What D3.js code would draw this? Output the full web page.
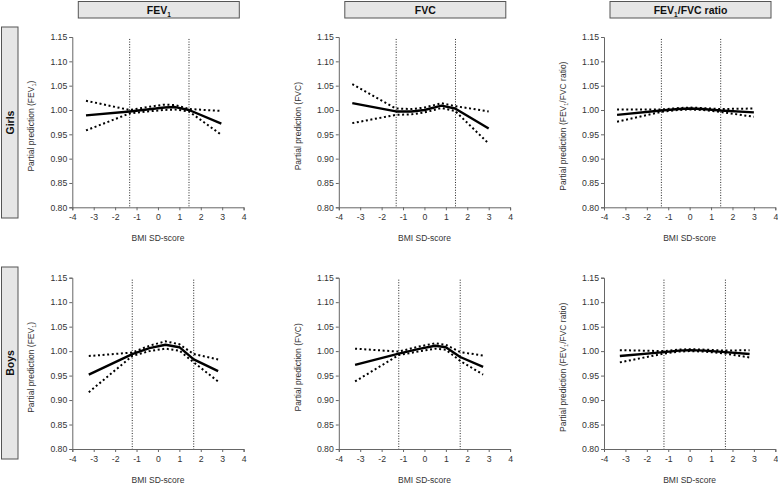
<!DOCTYPE html>
<html><head><meta charset="utf-8">
<script src="https://cdn.jsdelivr.net/npm/d3@7"></script>
<style>body{margin:0;background:#fff}svg{display:block;font-family:"Liberation Sans",Arial,sans-serif}</style>
</head><body><svg id="c" width="778" height="484"></svg>
<script>
// ---- data ----
const columnTitles = ["FEV", "FVC", "FEV/FVC ratio"];
const rowTitles = ["Girls", "Boys"];
const yLabels = ["(FEV₁)", "(FVC)", "(FEV₁/FVC ratio)"];
const xTicks = [-4, -3, -2, -1, 0, 1, 2, 3, 4];
const yTicks = [0.80, 0.85, 0.90, 0.95, 1.00, 1.05, 1.10, 1.15];
const cutGirls = [-1.32, 1.45];
const cutBoys = [-1.2, 1.67];

const girlsFev1X = [-3.36, -1.32, -0.5, 0.3, 0.8, 1.45, 2.96];
const girlsFev1 = [0.989, 0.997, 1.001, 1.005, 1.006, 1.000, 0.972];
const girlsFev1Up = [1.019, 1.000, 1.006, 1.011, 1.010, 1.002, 0.998];
const girlsFev1Lo = [0.958, 0.993, 0.997, 1.000, 1.001, 0.997, 0.949];

const girlsFvcX = [-3.37, -1.33, -0.6, 0, 0.8, 1.43, 3.0];
const girlsFvc = [1.014, 0.997, 0.997, 1.000, 1.009, 1.003, 0.962];
const girlsFvcUp = [1.053, 1.003, 1.002, 1.005, 1.014, 1.008, 0.997];
const girlsFvcLo = [0.973, 0.990, 0.991, 0.995, 1.004, 0.998, 0.931];

const girlsRatioX = [-3.39, -1.33, -0.5, 0, 0.6, 1.43, 3.0];
const girlsRatio = [0.990, 0.999, 1.002, 1.003, 1.002, 0.999, 0.995];
const girlsRatioUp = [1.001, 1.001, 1.004, 1.005, 1.004, 1.002, 1.003];
const girlsRatioLo = [0.976, 0.996, 1.000, 1.001, 1.000, 0.996, 0.986];

const boysFev1X = [-3.23, -1.2, -0.4, 0.35, 1.0, 1.67, 2.81];
const boysFev1 = [0.952, 0.994, 1.006, 1.013, 1.008, 0.983, 0.959];
const boysFev1Up = [0.990, 0.997, 1.011, 1.020, 1.014, 0.994, 0.983];
const boysFev1Lo = [0.916, 0.990, 1.000, 1.005, 1.001, 0.977, 0.938];

const boysFvcX = [-3.24, -1.2, -0.3, 0.5, 1.0, 1.67, 2.74];
const boysFvc = [0.972, 0.995, 1.004, 1.011, 1.008, 0.988, 0.968];
const boysFvcUp = [1.005, 0.999, 1.009, 1.016, 1.013, 0.998, 0.991];
const boysFvcLo = [0.938, 0.992, 0.999, 1.005, 1.003, 0.980, 0.952];

const boysRatioX = [-3.26, -1.2, -0.5, 0, 0.7, 1.67, 2.8];
const boysRatio = [0.990, 0.998, 1.001, 1.002, 1.001, 0.998, 0.994];
const boysRatioUp = [1.002, 1.000, 1.003, 1.004, 1.003, 1.001, 1.002];
const boysRatioLo = [0.977, 0.995, 0.999, 1.000, 0.999, 0.995, 0.987];

const panels = [
  [ {x: girlsFev1X, m: girlsFev1, u: girlsFev1Up, l: girlsFev1Lo, cut: cutGirls},
    {x: girlsFvcX, m: girlsFvc, u: girlsFvcUp, l: girlsFvcLo, cut: cutGirls},
    {x: girlsRatioX, m: girlsRatio, u: girlsRatioUp, l: girlsRatioLo, cut: cutGirls} ],
  [ {x: boysFev1X, m: boysFev1, u: boysFev1Up, l: boysFev1Lo, cut: cutBoys},
    {x: boysFvcX, m: boysFvc, u: boysFvcUp, l: boysFvcLo, cut: cutBoys},
    {x: boysRatioX, m: boysRatio, u: boysRatioUp, l: boysRatioLo, cut: cutBoys} ]
];

// ---- layout ----
const svg = d3.select("#c");
const colX = [72.3, 338.8, 604];
const plotW = 171.3;
const rowY = [[37, 207.3], [277.7, 449]];
const sideBoxes = [[27, 218], [267, 459]];

// column headers
columnTitles.forEach((t, ci) => {
  const x0 = colX[ci] + 6, w = 161;
  svg.append("rect").attr("x", x0).attr("y", 1.5).attr("width", w).attr("height", 16.5)
    .attr("fill", "#e6e6e6").attr("stroke", "#555").attr("stroke-width", 1);
  const tx = svg.append("text").attr("x", x0 + w / 2).attr("y", 14)
    .attr("text-anchor", "middle").attr("font-size", 10.5).attr("font-weight", "bold").attr("fill", "#111");
  if (ci === 0) {
    tx.append("tspan").text("FEV");
    tx.append("tspan").attr("font-size", 6.5).attr("dy", 2.5).text("1");
  } else if (ci === 2) {
    tx.append("tspan").text("FEV");
    tx.append("tspan").attr("font-size", 6.5).attr("dy", 2.5).text("1");
    tx.append("tspan").attr("dy", -2.5).text("/FVC ratio");
  } else tx.text(t);
});

// row side boxes
rowTitles.forEach((t, ri) => {
  const [y0, y1] = sideBoxes[ri];
  svg.append("rect").attr("x", 1.5).attr("y", y0).attr("width", 16.5).attr("height", y1 - y0)
    .attr("fill", "#e6e6e6").attr("stroke", "#555").attr("stroke-width", 1);
  svg.append("text").attr("transform", `translate(13.5,${(y0 + y1) / 2}) rotate(-90)`)
    .attr("text-anchor", "middle").attr("font-size", 10.5).attr("font-weight", "bold").attr("fill", "#111").text(t);
});

const fmt = d3.format(".2f");

panels.forEach((row, ri) => {
  row.forEach((p, ci) => {
    const x = d3.scaleLinear().domain([-4, 4]).range([colX[ci], colX[ci] + plotW]);
    const y = d3.scaleLinear().domain([0.80, 1.15]).range([rowY[ri][1], rowY[ri][0]]);
    const g = svg.append("g");

    // axes
    const ax = g.append("g").attr("transform", `translate(0,${y(0.80)})`)
      .call(d3.axisBottom(x).tickValues(xTicks).tickSize(3).tickPadding(4).tickFormat(d => String(d)));
    const ay = g.append("g").attr("transform", `translate(${x(-4)},0)`)
      .call(d3.axisLeft(y).tickValues(yTicks).tickSize(3).tickPadding(2).tickFormat(fmt));
    [ax, ay].forEach(a => {
      a.select(".domain").attr("stroke", "#666").attr("stroke-width", 1);
      a.selectAll(".tick line").attr("stroke", "#666");
      a.selectAll("text").attr("font-size", 8.7).attr("fill", "#333")
        .attr("font-family", "'Liberation Sans', Arial, sans-serif");
    });

    // axis titles
    g.append("text").attr("x", x(0)).attr("y", y(0.80) + 34)
      .attr("text-anchor", "middle").attr("font-size", 8.5).attr("fill", "#333").text("BMI SD-score");
    const yt = g.append("text").attr("transform", `translate(${x(-4) - 38},${(y(0.8) + y(1.15)) / 2 + 4}) rotate(-90)`)
      .attr("text-anchor", "middle").attr("font-size", 8.5).attr("fill", "#333");
    yt.append("tspan").text("Partial prediction ");
    const lab = yLabels[ci];
    if (lab.includes("₁")) {
      const parts = lab.split("₁");
      yt.append("tspan").text(parts[0]);
      yt.append("tspan").attr("font-size", 5.5).attr("dy", 2).text("1");
      yt.append("tspan").attr("dy", -2).text(parts[1]);
    } else yt.append("tspan").text(lab);

    // cut-off lines
    p.cut.forEach(c => {
      g.append("line").attr("x1", x(c)).attr("x2", x(c)).attr("y1", y(1.146)).attr("y2", y(0.80))
        .attr("stroke", "#222").attr("stroke-width", 1).attr("stroke-dasharray", "1,1.6");
    });

    const line = d3.line().x(d => x(d[0])).y(d => y(d[1])).curve(d3.curveLinear);
    const mk = arr => p.x.map((xv, i) => [xv, arr[i]]);
    g.append("path").attr("d", line(mk(p.u))).attr("fill", "none").attr("stroke", "#000")
      .attr("stroke-width", 2).attr("stroke-dasharray", "2,2.6");
    g.append("path").attr("d", line(mk(p.l))).attr("fill", "none").attr("stroke", "#000")
      .attr("stroke-width", 2).attr("stroke-dasharray", "2,2.6");
    g.append("path").attr("d", line(mk(p.m))).attr("fill", "none").attr("stroke", "#000")
      .attr("stroke-width", 2.4).attr("stroke-linejoin", "round");
  });
});
</script></body></html>
